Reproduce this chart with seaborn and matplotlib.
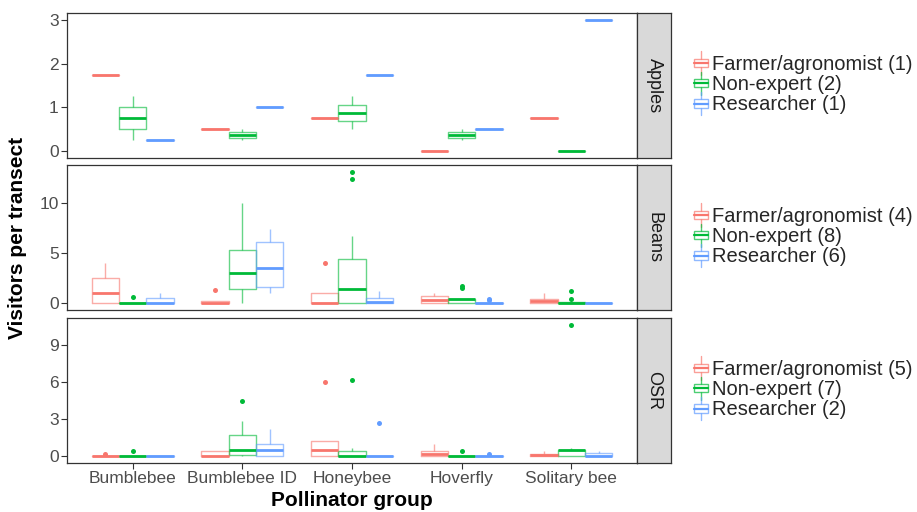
import numpy as np
import pandas as pd
import matplotlib
matplotlib.use("Agg")
import matplotlib.pyplot as plt
import seaborn as sns
from matplotlib.legend_handler import HandlerBase
from matplotlib.patches import Rectangle
from matplotlib.lines import Line2D

# ---------------- data ----------------
groups = ["Bumblebee", "Bumblebee ID", "Honeybee", "Hoverfly", "Solitary bee"]
roles = ["Farmer/agronomist", "Non-expert", "Researcher"]
crops = ["Apples", "Beans", "OSR"]

# one list of observations per pollinator group (in `groups` order)
apples_farmer = [[1.75], [0.5], [0.75], [0.0], [0.75]]
apples_nonexpert = [[0.25, 1.25], [0.25, 0.5], [0.5, 1.25], [0.25, 0.5], [0.0, 0.0]]
apples_researcher = [[0.25], [1.0], [1.75], [0.5], [3.0]]

beans_farmer = [[0, 0, 1, 2.5, 4], [0, 0, 0, 0.25, 1.33], [0, 0, 0, 1, 4],
                [0, 0, 0.34, 0.72, 1.0], [0, 0, 0.27, 0.48, 1.0]]
beans_nonexpert = [[0, 0, 0, 0, 0, 0, 0, 0.6], [0, 1.4, 3.04, 5.29, 10],
                   [0, 0, 0, 0, 0.3, 0.8, 1.4, 2, 3, 4.44, 6.72, 12.46, 13.17],
                   [0, 0, 0, 0.44, 0.44, 0.44, 0.44, 1.5, 1.7],
                   [0, 0, 0, 0, 0, 0, 0.44, 1.23]]
beans_researcher = [[0, 0, 0, 0.5, 1], [1.06, 1.67, 3.5, 6.14, 7.44], [0, 0, 0.1, 0.55, 1.26],
                    [0, 0, 0, 0, 0, 0, 0.3, 0.45], [0, 0, 0, 0, 0, 0]]

osr_farmer = [[0, 0, 0, 0, 0.2], [0, 0, 0, 0.47, 0.47], [0, 0, 0.53, 1.22, 6],
              [0, 0, 0.22, 0.47, 0.97], [0, 0, 0.08, 0.2, 0.44]]
osr_nonexpert = [[0, 0, 0, 0, 0, 0, 0.44], [0, 0, 0.1, 0.3, 0.5, 1.2, 1.75, 2.9, 4.5],
                 [0, 0, 0, 0, 0, 0.2, 0.44, 0.7, 6.15], [0, 0, 0, 0, 0, 0.44],
                 [0, 0, 0, 0.5, 0.5, 0.5, 0.5, 0.7, 10.66]]
osr_researcher = [[0, 0], [0, 0, 0.5, 0.97, 2.2], [0, 0, 0, 0, 2.7], [0, 0, 0, 0, 0.22],
                  [0, 0, 0, 0.28, 0.44]]

apples_n = [1, 2, 1]
beans_n = [4, 8, 6]
osr_n = [5, 7, 2]

y_ticks = [[0, 1, 2, 3], [0, 5, 10], [0, 3, 6, 9]]
y_limits = [(-0.15, 3.15), (-0.66, 13.83), (-0.53, 11.2)]

# ---------------- build long table ----------------
crop_arrays = {
    "Apples": (apples_farmer, apples_nonexpert, apples_researcher),
    "Beans": (beans_farmer, beans_nonexpert, beans_researcher),
    "OSR": (osr_farmer, osr_nonexpert, osr_researcher),
}
crop_counts = {"Apples": apples_n, "Beans": beans_n, "OSR": osr_n}
rows = []
for crop in crops:
    for role, arr in zip(roles, crop_arrays[crop]):
        for g, vals in zip(groups, arr):
            for v in vals:
                rows.append((crop, role, g, float(v)))
df = pd.DataFrame(rows, columns=["crop", "role", "group", "value"])

palette = {"Farmer/agronomist": "#F8766D", "Non-expert": "#00BA38", "Researcher": "#619CFF"}

sns.set_theme(style="white")
plt.rcParams["font.family"] = ["Liberation Sans", "DejaVu Sans"]

W, H = 917, 512
fig = plt.figure(figsize=(W / 100, H / 100), dpi=100)

panel_left, panel_right = 67, 637
strip_w = 34
panels_px = [(13, 158), (165, 310), (318, 463)]


class HandlerBox(HandlerBase):
    def create_artists(self, legend, orig_handle, xdescent, ydescent, width, height, fontsize, trans):
        c = orig_handle.get_color()
        cx = -xdescent + width / 2
        bw = width * 0.95
        y0 = -ydescent
        bh = height * 0.5
        by = y0 + (height - bh) / 2
        rect = Rectangle((cx - bw / 2, by), bw, bh, facecolor="white", edgecolor=c,
                         alpha=0.7, lw=1.0, transform=trans)
        med = Line2D([cx - bw / 2, cx + bw / 2], [by + bh / 2] * 2, color=c, lw=1.6, transform=trans)
        w1 = Line2D([cx, cx], [y0 - height * 0.2, by], color=c, lw=1.0, alpha=0.7, transform=trans)
        w2 = Line2D([cx, cx], [by + bh, y0 + height * 1.2], color=c, lw=1.0, alpha=0.7, transform=trans)
        return [w1, w2, rect, med]


for i, crop in enumerate(crops):
    top, bot = panels_px[i]
    ax = fig.add_axes([panel_left / W, 1 - bot / H, (panel_right - panel_left) / W, (bot - top) / H])
    sub = df[df["crop"] == crop]
    sns.boxplot(data=sub, x="group", y="value", hue="role", order=groups, hue_order=roles,
                palette=palette, width=0.75, gap=0, fill=False, linewidth=1.0, showcaps=False,
                flierprops=dict(marker="o", markersize=3.6), medianprops=dict(linewidth=2.0),
                legend=False, ax=ax)
    for ln in ax.lines:
        if ln.get_marker() == "o":
            ln.set_markerfacecolor(ln.get_markeredgecolor())
            ln.set_markeredgewidth(0)
        elif ln.get_linewidth() < 1.5:
            ln.set_alpha(0.6)
    for p in ax.patches:
        p.set_alpha(0.6)

    ax.set_xlim(-0.6, 4.6)
    ax.set_ylim(*y_limits[i])
    ax.set_yticks(y_ticks[i])
    ax.set_xlabel("")
    ax.set_ylabel("")
    ax.grid(False)
    for s in ax.spines.values():
        s.set_color("#333333")
        s.set_linewidth(0.9)
    ax.tick_params(axis="both", which="both", length=4, width=0.8, color="#333333",
                   labelsize=12.5, labelcolor="#4D4D4D", left=True, bottom=(i == 2), pad=2)
    if i < 2:
        ax.set_xticklabels([])
    else:
        ax.tick_params(axis="x", bottom=True)

    # strip
    sax = fig.add_axes([panel_right / W, 1 - bot / H, strip_w / W, (bot - top) / H])
    sax.set_facecolor("#D9D9D9")
    sax.set_xticks([])
    sax.set_yticks([])
    for s in sax.spines.values():
        s.set_color("#333333")
        s.set_linewidth(0.9)
    sax.text(0.5, 0.5, crop, rotation=-90, ha="center", va="center", fontsize=13,
             color="#1A1A1A", transform=sax.transAxes)

    # legend
    handles = [Line2D([], [], color=palette[r]) for r in roles]
    labels = [f"{r} ({n})" for r, n in zip(roles, crop_counts[crop])]
    fig.legend(handles, labels, loc="center left",
               bbox_to_anchor=(694 / W, 1 - ((top + bot) / 2 - 1) / H),
               frameon=False, fontsize=14.5, handler_map={Line2D: HandlerBox()},
               handlelength=0.7, handleheight=0.9, handletextpad=0.2, labelspacing=0.05,
               borderpad=0, borderaxespad=0)

fig.text(18 / W, 1 - 238 / H, "Visitors per transect", rotation=90, ha="center", va="center",
         fontsize=15, fontweight="bold", color="black")
fig.text(352 / W, 1 - 500 / H, "Pollinator group", ha="center", va="center",
         fontsize=15, fontweight="bold", color="black")

fig.savefig("out.png", dpi=100, facecolor="white")
